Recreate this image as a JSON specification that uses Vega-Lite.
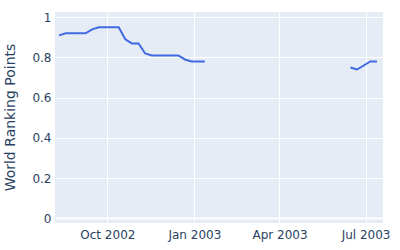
{
  "$schema": "https://vega.github.io/schema/vega-lite/v6.json",
  "width": 328,
  "height": 211,
  "autosize": "none",
  "padding": {"left": 55, "top": 12, "right": 17, "bottom": 27},
  "background": "white",
  "config": {
    "view": {"fill": "#E5ECF6", "stroke": null},
    "axis": {
      "gridColor": "white",
      "gridWidth": 1,
      "domain": false,
      "ticks": false,
      "labelColor": "#2a3f5f",
      "labelFont": "DejaVu Sans",
      "labelFontSize": 12,
      "titleColor": "#2a3f5f",
      "titleFont": "DejaVu Sans",
      "titleFontSize": 14,
      "titleFontWeight": "normal"
    }
  },
  "data": {
    "values": [
      {"date": "2002-08-11", "points": 0.91, "seg": 1},
      {"date": "2002-08-18", "points": 0.92, "seg": 1},
      {"date": "2002-08-25", "points": 0.92, "seg": 1},
      {"date": "2002-09-01", "points": 0.92, "seg": 1},
      {"date": "2002-09-08", "points": 0.92, "seg": 1},
      {"date": "2002-09-15", "points": 0.94, "seg": 1},
      {"date": "2002-09-22", "points": 0.95, "seg": 1},
      {"date": "2002-09-29", "points": 0.95, "seg": 1},
      {"date": "2002-10-06", "points": 0.95, "seg": 1},
      {"date": "2002-10-13", "points": 0.95, "seg": 1},
      {"date": "2002-10-20", "points": 0.89, "seg": 1},
      {"date": "2002-10-27", "points": 0.87, "seg": 1},
      {"date": "2002-11-03", "points": 0.87, "seg": 1},
      {"date": "2002-11-10", "points": 0.82, "seg": 1},
      {"date": "2002-11-17", "points": 0.81, "seg": 1},
      {"date": "2002-11-24", "points": 0.81, "seg": 1},
      {"date": "2002-12-01", "points": 0.81, "seg": 1},
      {"date": "2002-12-08", "points": 0.81, "seg": 1},
      {"date": "2002-12-15", "points": 0.81, "seg": 1},
      {"date": "2002-12-22", "points": 0.79, "seg": 1},
      {"date": "2002-12-29", "points": 0.78, "seg": 1},
      {"date": "2003-01-05", "points": 0.78, "seg": 1},
      {"date": "2003-01-12", "points": 0.78, "seg": 1},
      {"date": "2003-06-15", "points": 0.75, "seg": 2},
      {"date": "2003-06-22", "points": 0.74, "seg": 2},
      {"date": "2003-06-29", "points": 0.76, "seg": 2},
      {"date": "2003-07-06", "points": 0.78, "seg": 2},
      {"date": "2003-07-13", "points": 0.78, "seg": 2}
    ]
  },
  "mark": {"type": "line", "color": "#4169E1", "strokeWidth": 2, "clip": true},
  "encoding": {
    "x": {
      "field": "date",
      "type": "temporal",
      "title": null,
      "scale": {"domain": ["2002-08-06T16:00:00", "2003-07-19T10:00:00"]},
      "axis": {
        "values": ["2002-10-01T00:00:00", "2003-01-01T00:00:00", "2003-04-01T00:00:00", "2003-07-01T00:00:00"],
        "format": "%b %Y",
        "labelPadding": 6,
        "labelFlush": false
      }
    },
    "y": {
      "field": "points",
      "type": "quantitative",
      "title": "World Ranking Points",
      "scale": {"domain": [-0.023, 1.026], "nice": false, "zero": false},
      "axis": {
        "values": [0, 0.2, 0.4, 0.6, 0.8, 1],
        "format": ".1~f",
        "labelPadding": 4,
        "titleX": -38,
        "titleY": 105,
        "gridWidth": {"condition": {"test": "datum.value === 0", "value": 2}, "value": 1}
      }
    },
    "detail": {"field": "seg", "type": "nominal"}
  }
}
